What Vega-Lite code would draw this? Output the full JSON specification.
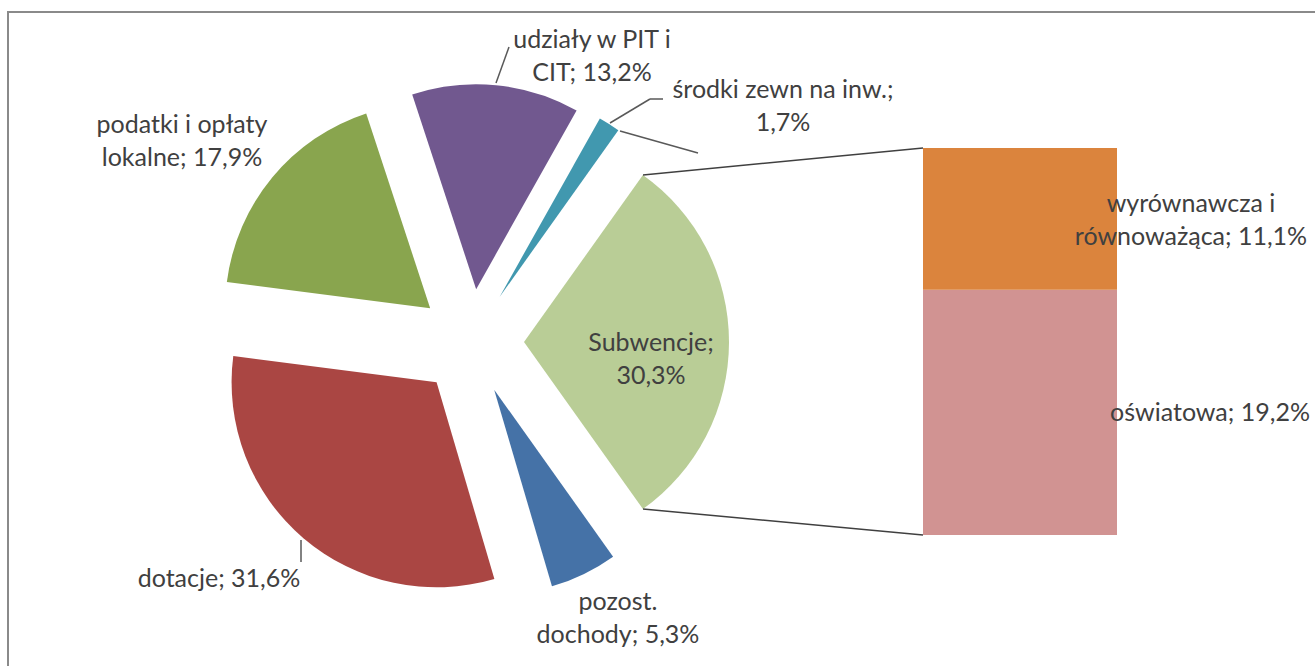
{
  "$schema": "https://vega.github.io/schema/vega-lite/v6.json",
  "width": 1307,
  "height": 654,
  "autosize": {"type": "none"},
  "padding": {"left": 8, "top": 12, "right": 0, "bottom": 0},
  "background": "#ffffff",
  "config": {
    "view": {"stroke": null, "fill": null},
    "font": "Lato",
    "text": {"font": "Lato", "fontSize": 25, "fill": "#404040", "lineHeight": 33, "align": "center", "baseline": "alphabetic", "lineBreak": "\n"}
  },
  "datasets": {
    "dochody": [
      {"zrodlo": "Subwencje", "udzial": 30.3, "kolejnosc": 1, "etykieta": "Subwencje;\n30,3%"},
      {"zrodlo": "pozost. dochody", "udzial": 5.3, "kolejnosc": 2, "etykieta": "pozost.\ndochody; 5,3%"},
      {"zrodlo": "dotacje", "udzial": 31.6, "kolejnosc": 3, "etykieta": "dotacje; 31,6%"},
      {"zrodlo": "podatki i opłaty lokalne", "udzial": 17.9, "kolejnosc": 4, "etykieta": "podatki i opłaty\nlokalne; 17,9%"},
      {"zrodlo": "udziały w PIT i CIT", "udzial": 13.2, "kolejnosc": 5, "etykieta": "udziały w PIT i\nCIT; 13,2%"},
      {"zrodlo": "środki zewn na inw.", "udzial": 1.7, "kolejnosc": 6, "etykieta": "środki zewn na inw.;\n1,7%"}
    ],
    "subwencje": [
      {"grupa": "Subwencje", "zrodlo": "oświatowa", "udzial": 19.2, "kolejnosc": 1, "etykieta": "oświatowa; 19,2%"},
      {"grupa": "Subwencje", "zrodlo": "wyrównawcza i równoważąca", "udzial": 11.1, "kolejnosc": 2, "etykieta": "wyrównawcza i\nrównoważąca; 11,1%"}
    ]
  },
  "layer": [
    {
      "data": {"values": [{"ramka": "lewa"}]},
      "mark": {"type": "rule", "stroke": "#8a8a8a", "strokeWidth": 2, "clip": false},
      "encoding": {"x": {"value": 0}, "y": {"value": -1}, "x2": {"value": 0}, "y2": {"value": 654}}
    },
    {
      "data": {"values": [{"ramka": "górna"}]},
      "mark": {"type": "rule", "stroke": "#8a8a8a", "strokeWidth": 2, "clip": false},
      "encoding": {"x": {"value": -1}, "y": {"value": 0}, "x2": {"value": 1307}, "y2": {"value": 0}}
    },
    {
      "data": {"name": "dochody"},
      "mark": {
        "type": "arc",
        "outerRadius": 205,
        "x": {"expr": "463 + 53*sin(0.6189 + PI*(datum.udzial_start + datum.udzial_end)/100)"},
        "y": {"expr": "330 - 53*cos(0.6189 + PI*(datum.udzial_start + datum.udzial_end)/100)"}
      },
      "encoding": {
        "theta": {"field": "udzial", "type": "quantitative", "stack": true, "scale": {"domain": [0, 100], "range": [0.6189, 6.9021]}},
        "order": {"field": "kolejnosc", "type": "quantitative"},
        "color": {
          "field": "zrodlo", "type": "nominal", "legend": null,
          "scale": {
            "domain": ["Subwencje", "pozost. dochody", "dotacje", "podatki i opłaty lokalne", "udziały w PIT i CIT", "środki zewn na inw.", "wyrównawcza i równoważąca", "oświatowa"],
            "range": ["#B9CD96", "#4572A7", "#AA4643", "#89A54E", "#71588F", "#4198AF", "#DB843D", "#D19392"]
          }
        }
      }
    },
    {
      "data": {"name": "subwencje"},
      "mark": {"type": "bar"},
      "encoding": {
        "x": {"field": "grupa", "type": "nominal", "axis": null, "scale": {"domain": ["Subwencje"], "range": [915, 1109], "paddingInner": 0, "paddingOuter": 0}},
        "y": {"field": "udzial", "type": "quantitative", "stack": true, "axis": null, "scale": {"domain": [0, 30.3], "range": [523, 136], "nice": false}},
        "order": {"field": "kolejnosc", "type": "quantitative"},
        "color": {
          "field": "zrodlo", "type": "nominal", "legend": null,
          "scale": {
            "domain": ["Subwencje", "pozost. dochody", "dotacje", "podatki i opłaty lokalne", "udziały w PIT i CIT", "środki zewn na inw.", "wyrównawcza i równoważąca", "oświatowa"],
            "range": ["#B9CD96", "#4572A7", "#AA4643", "#89A54E", "#71588F", "#4198AF", "#DB843D", "#D19392"]
          }
        }
      }
    },
    {
      "data": {"values": [{"krawedz": "góra"}]},
      "mark": {"type": "rule", "stroke": "#404040", "strokeWidth": 1.5},
      "encoding": {"x": {"value": 635}, "y": {"value": 163}, "x2": {"value": 915}, "y2": {"value": 136}}
    },
    {
      "data": {"values": [{"krawedz": "dół"}]},
      "mark": {"type": "rule", "stroke": "#404040", "strokeWidth": 1.5},
      "encoding": {"x": {"value": 635}, "y": {"value": 497}, "x2": {"value": 915}, "y2": {"value": 523}}
    },
    {
      "data": {"values": [{"linia": "udziały"}]},
      "mark": {"type": "rule", "stroke": "#595959", "strokeWidth": 1.5},
      "encoding": {"x": {"value": 488}, "y": {"value": 71}, "x2": {"value": 501}, "y2": {"value": 35}}
    },
    {
      "data": {"values": [{"linia": "środki"}]},
      "mark": {"type": "rule", "stroke": "#595959", "strokeWidth": 1.5},
      "encoding": {"x": {"value": 602}, "y": {"value": 111}, "x2": {"value": 642}, "y2": {"value": 87}}
    },
    {
      "data": {"values": [{"linia": "środki2"}]},
      "mark": {"type": "rule", "stroke": "#595959", "strokeWidth": 1.5},
      "encoding": {"x": {"value": 642}, "y": {"value": 87}, "x2": {"value": 655}, "y2": {"value": 87}}
    },
    {
      "data": {"values": [{"linia": "inna"}]},
      "mark": {"type": "rule", "stroke": "#595959", "strokeWidth": 1.5},
      "encoding": {"x": {"value": 612}, "y": {"value": 119}, "x2": {"value": 690}, "y2": {"value": 141}}
    },
    {
      "data": {"values": [{"linia": "dotacje"}]},
      "mark": {"type": "rule", "stroke": "#595959", "strokeWidth": 1.5},
      "encoding": {"x": {"value": 293}, "y": {"value": 528}, "x2": {"value": 293}, "y2": {"value": 550}}
    },
    {
      "data": {"name": "dochody"},
      "transform": [{"filter": "datum.zrodlo === 'Subwencje'"}],
      "mark": {"type": "text", "x": 643, "y": 339},
      "encoding": {"text": {"field": "etykieta", "type": "nominal"}}
    },
    {
      "data": {"name": "dochody"},
      "transform": [{"filter": "datum.zrodlo === 'pozost. dochody'"}],
      "mark": {"type": "text", "x": 610, "y": 598},
      "encoding": {"text": {"field": "etykieta", "type": "nominal"}}
    },
    {
      "data": {"name": "dochody"},
      "transform": [{"filter": "datum.zrodlo === 'dotacje'"}],
      "mark": {"type": "text", "x": 211, "y": 575},
      "encoding": {"text": {"field": "etykieta", "type": "nominal"}}
    },
    {
      "data": {"name": "dochody"},
      "transform": [{"filter": "datum.zrodlo === 'podatki i opłaty lokalne'"}],
      "mark": {"type": "text", "x": 174, "y": 121},
      "encoding": {"text": {"field": "etykieta", "type": "nominal"}}
    },
    {
      "data": {"name": "dochody"},
      "transform": [{"filter": "datum.zrodlo === 'udziały w PIT i CIT'"}],
      "mark": {"type": "text", "x": 584, "y": 36},
      "encoding": {"text": {"field": "etykieta", "type": "nominal"}}
    },
    {
      "data": {"name": "dochody"},
      "transform": [{"filter": "datum.zrodlo === 'środki zewn na inw.'"}],
      "mark": {"type": "text", "x": 775, "y": 86},
      "encoding": {"text": {"field": "etykieta", "type": "nominal"}}
    },
    {
      "data": {"name": "subwencje"},
      "transform": [{"filter": "datum.zrodlo === 'wyrównawcza i równoważąca'"}],
      "mark": {"type": "text", "x": 1183, "y": 200},
      "encoding": {"text": {"field": "etykieta", "type": "nominal"}}
    },
    {
      "data": {"name": "subwencje"},
      "transform": [{"filter": "datum.zrodlo === 'oświatowa'"}],
      "mark": {"type": "text", "x": 1202, "y": 409},
      "encoding": {"text": {"field": "etykieta", "type": "nominal"}}
    }
  ]
}
